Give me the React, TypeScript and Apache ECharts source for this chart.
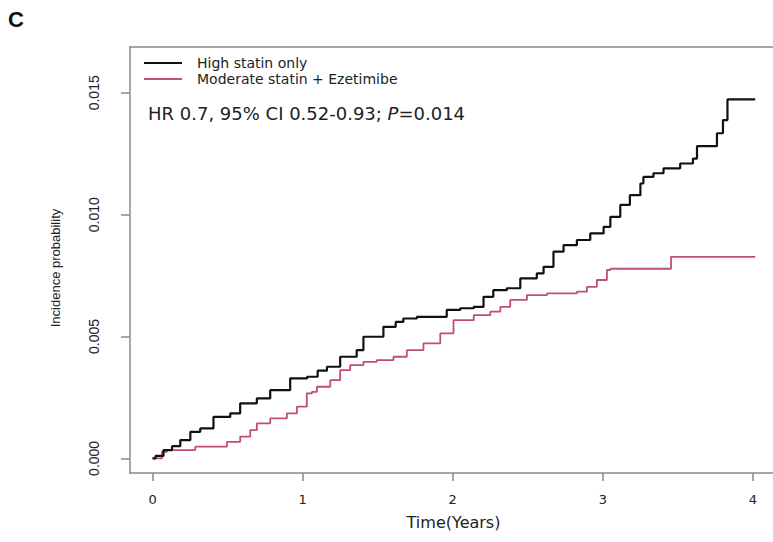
import React, { useEffect, useRef } from "react";
import * as echarts from "echarts";

const seriesNames = ["High statin only", "Moderate statin + Ezetimibe"];

const timesHigh = [0, 0.02, 0.073, 0.13, 0.185, 0.252, 0.318, 0.406, 0.518, 0.584, 0.695, 0.784, 0.917, 1.03, 1.1, 1.162, 1.25, 1.36, 1.405, 1.538, 1.62, 1.671, 1.761, 1.96, 2.05, 2.14, 2.205, 2.27, 2.36, 2.45, 2.56, 2.605, 2.671, 2.738, 2.827, 2.916, 3.005, 3.05, 3.116, 3.18, 3.25, 3.27, 3.337, 3.404, 3.515, 3.6, 3.627, 3.76, 3.8, 3.83, 4.015];
const valuesHigh = [0, 0.0001, 0.00034, 0.0005, 0.00075, 0.00109, 0.00123, 0.0017, 0.00185, 0.00226, 0.00246, 0.0028, 0.00328, 0.00335, 0.0036, 0.00376, 0.00417, 0.00444, 0.00499, 0.0054, 0.0056, 0.00574, 0.00581, 0.00609, 0.00616, 0.00622, 0.00663, 0.0069, 0.00698, 0.00739, 0.00759, 0.00786, 0.00848, 0.00875, 0.00896, 0.00923, 0.0095, 0.00991, 0.0104, 0.0108, 0.01128, 0.01155, 0.0117, 0.0119, 0.0121, 0.0123, 0.01281, 0.01334, 0.01388, 0.01473, 0.01473];

const timesMod = [0, 0.063, 0.096, 0.285, 0.496, 0.584, 0.651, 0.695, 0.784, 0.895, 0.962, 1.028, 1.062, 1.095, 1.184, 1.25, 1.317, 1.405, 1.494, 1.605, 1.694, 1.805, 1.917, 2.005, 2.14, 2.25, 2.317, 2.383, 2.494, 2.628, 2.827, 2.894, 2.96, 3.027, 3.05, 3.454, 4.015];
const valuesMod = [0, 0.00027, 0.00034, 0.00048, 0.00068, 0.00089, 0.00116, 0.00144, 0.00164, 0.00185, 0.00212, 0.00267, 0.00273, 0.00294, 0.00321, 0.00362, 0.00383, 0.00396, 0.00403, 0.00417, 0.00444, 0.00472, 0.00513, 0.00567, 0.00588, 0.00602, 0.00622, 0.0065, 0.0067, 0.00677, 0.00684, 0.00704, 0.00732, 0.00773, 0.00778, 0.00827, 0.00827];

const xTicks = [0, 1, 2, 3, 4];
const yTicks = [0, 0.005, 0.01, 0.015];

const panelLabel = "C";
const annotation = "HR 0.7, 95% CI 0.52-0.93; ";
const pLabel = "P";
const pValue = "=0.014";

export default function App() {
  const ref = useRef<HTMLDivElement>(null);

  useEffect(() => {
    if (!ref.current) return;
    const chart = echarts.init(ref.current, null, { renderer: "svg" });
    const pair = (t: number[], v: number[]) => t.map((x, i) => [x, v[i]]);
    const textColor = "#222";
    const boxColor = "#8a8a8a";
    const boxLine = { show: true, onZero: false, lineStyle: { color: boxColor, width: 1.5 } };

    chart.setOption({
      animation: false,
      backgroundColor: "#ffffff",
      grid: {
        left: 130,
        top: 47,
        right: 123,
        bottom: 69,
        show: false,
      },
      legend: {
        orient: "vertical",
        left: 144,
        top: 56,
        padding: 0,
        itemWidth: 38,
        itemHeight: 2,
        itemGap: 2,
        icon: "rect",
        data: seriesNames,
        textStyle: {
          fontFamily: "DejaVu Sans",
          fontSize: 14,
          color: textColor,
          padding: [0, 0, 0, 10],
        },
      },
      xAxis: [
        {
          type: "value",
          position: "bottom",
          min: -0.15,
          max: 4.16,
          name: "Time(Years)",
          nameLocation: "middle",
          nameGap: 41,
          nameTextStyle: { fontFamily: "DejaVu Sans", fontSize: 16, color: textColor, padding: [0, 0, 0, 0] },
          axisLine: boxLine,
          splitLine: { show: false },
          axisTick: {
            show: true,
            length: 8,
            customValues: xTicks,
            lineStyle: { color: boxColor, width: 1.5 },
          },
          axisLabel: {
            customValues: xTicks,
            margin: 20,
            fontFamily: "DejaVu Sans",
            fontSize: 13,
            color: textColor,
            formatter: (v: number) => String(v),
          },
        },
        {
          type: "value",
          position: "top",
          min: -0.15,
          max: 4.16,
          axisLine: boxLine,
          axisTick: { show: false },
          axisLabel: { show: false },
          splitLine: { show: false },
        },
      ],
      yAxis: {
        type: "value",
        min: -0.0006,
        max: 0.01688,
        name: "Incidence probability",
        nameLocation: "middle",
        nameRotate: 90,
        nameGap: 68,
        nameTextStyle: { fontFamily: "Liberation Sans", fontSize: 13, color: textColor, padding: [0, 16, 0, 0] },
        axisLine: boxLine,
        splitLine: { show: false },
        axisTick: {
          show: true,
          length: 9,
          customValues: yTicks,
          lineStyle: { color: boxColor, width: 1.5 },
        },
        axisLabel: {
          customValues: yTicks,
          rotate: 90,
          margin: 29,
          fontFamily: "Liberation Sans",
          fontSize: 14,
          color: textColor,
          formatter: (v: number) => v.toFixed(3),
        },
      },
      graphic: [
        {
          type: "text",
          left: 8,
          top: 8,
          style: {
            text: panelLabel,
            fontFamily: "Liberation Sans",
            fontWeight: "bold",
            fontSize: 22,
            fill: "#111",
          },
        },
        {
          type: "text",
          x: 148,
          y: 113,
          style: {
            text: "{n|" + annotation + "}{i|" + pLabel + "}{n|" + pValue + "}",
            verticalAlign: "middle",
            rich: {
              n: { fontFamily: "DejaVu Sans", fontSize: 18, fill: textColor, color: textColor },
              i: { fontFamily: "DejaVu Sans", fontSize: 18, fontStyle: "italic", fill: textColor, color: textColor },
            },
          },
        },
      ],
      series: [
        {
          name: seriesNames[0],
          type: "line",
          step: "end",
          showSymbol: false,
          symbol: "none",
          data: pair(timesHigh, valuesHigh),
          color: "#111111",
          lineStyle: { color: "#111111", width: 2.2 },
          z: 3,
        },
        {
          name: seriesNames[1],
          type: "line",
          step: "end",
          showSymbol: false,
          symbol: "none",
          data: pair(timesMod, valuesMod),
          color: "#c0506c",
          lineStyle: { color: "#c0506c", width: 1.8 },
          z: 2,
        },
      ],
    });

    return () => chart.dispose();
  }, []);

  return (
    <div
      ref={ref}
      style={{ position: "fixed", left: 0, top: 0, width: 900, height: 542 }}
    />
  );
}
